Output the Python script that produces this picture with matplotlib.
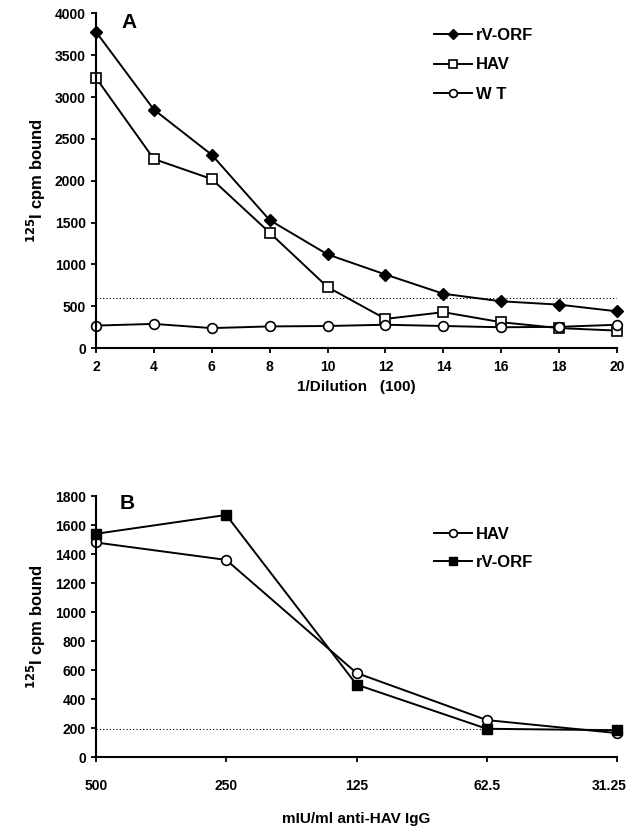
import numpy as np
import matplotlib.pyplot as plt
from matplotlib.transforms import ScaledTranslation

plt.rcParams['font.family'] = ['Liberation Sans', 'DejaVu Sans']
plt.rcParams['font.weight'] = 'bold'

# Panel A
dilution = [2, 4, 6, 8, 10, 12, 14, 16, 18, 20]
a_rvorf = [3780, 2850, 2310, 1530, 1120, 880, 650, 560, 520, 440]
a_hav = [3230, 2260, 2020, 1380, 730, 350, 430, 310, 240, 210]
a_wt = [270, 290, 240, 260, 265, 280, 265, 250, 255, 280]
a_cutoff = 595

# Panel B
igg_labels = ['500', '250', '125', '62.5', '31.25']
b_hav = [1480, 1360, 580, 255, 165]
b_rvorf = [1540, 1670, 500, 195, 185]
b_cutoff = 190

fig = plt.figure(figsize=(6.31, 8.31), dpi=100)
axA = fig.add_axes([0.152, 0.581, 0.826, 0.403])
axB = fig.add_axes([0.152, 0.089, 0.826, 0.314])

ylab = r'$\mathbf{^{125}}$I cpm bound'

for ax in (axA, axB):
    ax.spines['top'].set_visible(False)
    ax.spines['right'].set_visible(False)
    ax.spines['left'].set_linewidth(1.5)
    ax.spines['bottom'].set_linewidth(1.5)
    ax.tick_params(direction='out', length=3.8, width=1.3, labelsize=10)

axA.tick_params(axis='x', pad=5)
axB.tick_params(axis='x', pad=12)

lw = 1.4
axA.plot(dilution, a_rvorf, '-', color='black', lw=lw, marker='D', ms=6,
         mfc='black', clip_on=False, label='rV-ORF')
axA.plot(dilution, a_hav, '-', color='black', lw=lw, marker='s', ms=7,
         mfc='white', mew=1.2, clip_on=False, label='HAV')
axA.plot(dilution, a_wt, '-', color='black', lw=lw, marker='o', ms=7,
         mfc='white', mew=1.2, clip_on=False, label='W T')
axA.axhline(a_cutoff, color='black', lw=0.8, ls=(0, (1, 2)))
axA.set_xlim(2, 20)
axA.set_ylim(0, 4000)
axA.set_xticks(dilution)
axA.set_yticks(np.arange(0, 4001, 500))
axA.set_xticklabels([str(d) for d in dilution], fontweight='bold')
axA.set_yticklabels([str(v) for v in range(0, 4001, 500)], fontweight='bold')
axA.set_xlabel('1/Dilution   (100)', fontsize=11, fontweight='bold', labelpad=4)
axA.set_ylabel(ylab, fontsize=12, fontweight='bold', labelpad=5)
axA.text(2.9, 3890, 'A', fontsize=15, fontweight='bold', va='center')
axA.legend(loc='upper left', bbox_to_anchor=(0.62, 1.0), frameon=False,
           handlelength=2.3, handletextpad=0.2, labelspacing=0.85,
           markerscale=0.8, prop={'weight': 'bold', 'size': 12})

xb = np.arange(len(igg_labels))
axB.plot(xb, b_hav, '-', color='black', lw=lw, marker='o', ms=7,
         mfc='white', mew=1.2, clip_on=False, label='HAV')
axB.plot(xb, b_rvorf, '-', color='black', lw=lw, marker='s', ms=7,
         mfc='black', clip_on=False, label='rV-ORF')
axB.axhline(b_cutoff, color='black', lw=0.8, ls=(0, (1, 2)))
axB.set_xlim(0, len(igg_labels) - 1)
axB.set_ylim(0, 1800)
axB.set_xticks(xb)
axB.set_xticklabels(igg_labels, fontweight='bold')
# last label sits at the right edge; nudge it inward
lbl = axB.get_xticklabels()[-1]
lbl.set_transform(lbl.get_transform() + ScaledTranslation(-6 / 72, 0, fig.dpi_scale_trans))
axB.set_yticks(np.arange(0, 1801, 200))
axB.set_yticklabels([str(v) for v in range(0, 1801, 200)], fontweight='bold')
axB.set_xlabel('mIU/ml anti-HAV IgG', fontsize=11, fontweight='bold', labelpad=14)
axB.set_ylabel(ylab, fontsize=12, fontweight='bold', labelpad=5)
axB.text(0.18, 1750, 'B', fontsize=15, fontweight='bold', va='center')
axB.legend(loc='upper left', bbox_to_anchor=(0.62, 0.94), frameon=False,
           handlelength=2.3, handletextpad=0.2, labelspacing=0.8,
           markerscale=0.8, prop={'weight': 'bold', 'size': 12})

fig.savefig('out.png', dpi=100)
